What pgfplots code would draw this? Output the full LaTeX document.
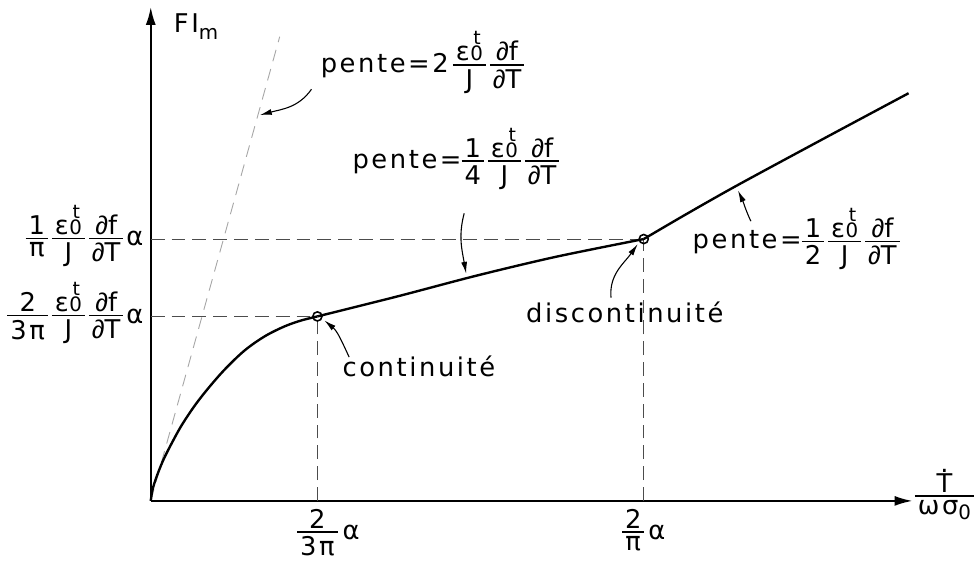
\documentclass[border=0pt]{standalone}
\usepackage{fontspec}
\setmainfont{DejaVu Sans}[LetterSpace=10]
\newfontfamily\pdfont{Liberation Sans}[LetterSpace=10]
\usepackage{pgfplots}
\pgfplotsset{compat=1.18}
\usetikzlibrary{arrows.meta}

% stacked fraction with its bar on a fixed height above the baseline
\newlength\fracaxis \setlength\fracaxis{3.4pt}
\newlength\ffw
\newsavebox\ffnum
\newsavebox\ffden
\newcommand\ff[2]{%
  \begingroup
  \sbox\ffnum{\kern1.5pt#1\kern1.5pt}%
  \sbox\ffden{\kern1.5pt#2\kern1.5pt}%
  \ifdim\wd\ffnum>\wd\ffden \setlength\ffw{\wd\ffnum}\else\setlength\ffw{\wd\ffden}\fi
  \raisebox{\fracaxis}{\vbox{\hbox to\ffw{\hfil\usebox\ffnum\hfil}\kern1.5pt\hrule height0.75pt}}%
  \kern-\ffw
  \raisebox{\fracaxis}{\vtop{\kern1.8pt\hbox to\ffw{\hfil\usebox\ffden\hfil}}}%
  \endgroup}
\newcommand\pd{{\pdfont ∂}}
% epsilon with index 0 and exponent t
\newcommand\epst{ε\kern0.3pt\makebox[0pt][l]{\kern1.6pt\raisebox{8pt}{\fontsize{9.5}{9}\selectfont t}}{\fontsize{10}{9}\selectfont 0}}
\newcommand\dfdT{\ff{\pd f}{\pd T}}
\newcommand\Tdot{\ooalign{\hfil\raisebox{0.75em}{.}\hfil\cr T\cr}}

\begin{document}
\fontsize{13}{15}\selectfont
\begin{tikzpicture}
\begin{axis}[
  width=384pt, height=249pt, scale only axis,
  xmin=0, xmax=768, ymin=0, ymax=498,
  axis lines=left,
  axis line style={line width=1pt, -{Latex[length=9pt,width=5pt]}},
  major tick length=0pt,
  xtick={168,497},
  xticklabels={{\ff{2}{3π}\rlap{\kern2.5pt α}}, {\ff{2}{π}\kern2pt α}},
  ytick={186,264},
  yticklabels={{\ff{2}{3π}\kern2pt\ff{\epst}{J}\kern2pt\dfdT\kern1.5pt α},
               {\ff{1}{π}\kern2pt\ff{\epst}{J}\kern2pt\dfdT\kern1.5pt α}},
  xticklabel style={anchor=base, inner sep=0pt, yshift=-19.5pt},
  yticklabel style={anchor=base east, inner sep=0pt, xshift=-3.5pt, yshift=-3.4pt},
  clip=false,
]
% page extent
\path[draw=none] (axis cs:-152,-64) rectangle (axis cs:822,505);

% guide lines
\addplot[gray!60!black, line width=0.5pt, dash pattern=on 7pt off 3.5pt]
  coordinates {(0,186) (168,186)};
\addplot[gray!60!black, line width=0.5pt, dash pattern=on 7pt off 3.5pt]
  coordinates {(0,264) (497,264)};
\addplot[gray!60!black, line width=0.5pt, dash pattern=on 7pt off 3.5pt]
  coordinates {(168,0) (168,186)};
\addplot[gray!60!black, line width=0.5pt, dash pattern=on 7pt off 3.5pt]
  coordinates {(497,0) (497,264)};
% initial tangent
\addplot[gray!70, line width=0.45pt, dash pattern=on 6pt off 4pt]
  coordinates {(0,0) (130,468)};

% response curve
\addplot[black, line width=1.2pt, smooth, tension=0.55] coordinates {
  (0,0) (1.5,10) (4,19) (8,30) (13,42) (20,56) (31,76) (45,97) (60,116)
  (76,134) (95,152) (115,166) (135,176) (152,182) (168,186)};
\addplot[black, line width=1.2pt, smooth, tension=0.5] coordinates {
  (168,186) (248,206) (328,227) (408,246) (497,264)};
\addplot[black, line width=1.2pt, smooth, tension=0.5] coordinates {
  (497,264) (538,288) (591,318) (678,365) (764,411)};

% transition points
\addplot[only marks, mark=o, mark size=2.3pt, mark options={fill=white, line width=0.8pt}]
  coordinates {(168,186) (497,264)};

% annotations
\node[anchor=base west, inner sep=0pt] at (axis cs:23,472)
  {FI\raisebox{-3.5pt}{\fontsize{10}{10}\selectfont m}};
\node[anchor=base west, inner sep=0pt] at (axis cs:770,-2.5)
  {\ff{\Tdot}{ωσ\raisebox{-2.5pt}{\fontsize{10}{9}\selectfont 0}}};

\node[anchor=base west, inner sep=0pt] at (axis cs:171,432)
  {pente=2\kern2pt\ff{\epst}{J}\kern2pt\dfdT};
\node[anchor=base west, inner sep=0pt] at (axis cs:203,335)
  {pente=\ff{1}{4}\kern2pt\ff{\epst}{J}\kern2pt\dfdT};
\node[anchor=base west, inner sep=0pt] at (axis cs:546,254)
  {pente=\ff{1}{2}\kern2pt\ff{\epst}{J}\kern2pt\dfdT};
\node[anchor=base west, inner sep=0pt] at (axis cs:378,180) {discontinuité};
\node[anchor=base west, inner sep=0pt] at (axis cs:193,125) {continuité};

\tikzset{lead/.style={line width=0.55pt, -{Latex[length=6pt,width=3pt]}}}
\draw[lead] (axis cs:162,415) to[out=235,in=15] (axis cs:110,389);
\draw[lead] (axis cs:316,290) to[out=255,in=100] (axis cs:318,229);
\draw[lead] (axis cs:605,282) to[out=115,in=-65] (axis cs:592,313);
\draw[lead] (axis cs:464,205) to[out=95,in=235] (axis cs:491,259);
\draw[lead] (axis cs:200,145) to[out=115,in=-40] (axis cs:175,182);
\end{axis}
\end{tikzpicture}
\end{document}
